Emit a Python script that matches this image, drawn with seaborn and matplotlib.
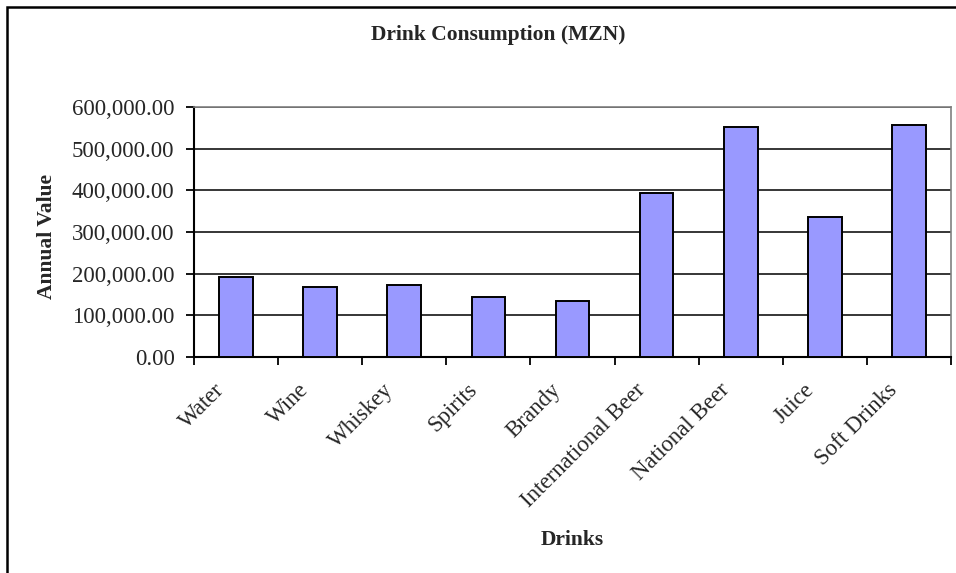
import matplotlib
matplotlib.use("Agg")
import matplotlib.pyplot as plt
import matplotlib.patches as mpatches
import matplotlib.transforms as mtransforms
from matplotlib.ticker import FuncFormatter, FixedLocator
import seaborn as sns
import pandas as pd

# Annual value of drink consumption (MZN)
drinks = ["Water", "Wine", "Whiskey", "Spirits", "Brandy",
          "International Beer", "National Beer", "Juice", "Soft Drinks"]
annual_value = [192000, 167000, 173000, 144000, 134000,
                393000, 552000, 336000, 557000]
y_ticks = [0, 100000, 200000, 300000, 400000, 500000, 600000]

df = pd.DataFrame({"Drinks": drinks, "Annual Value": annual_value})

sns.set_theme(style="white")
plt.rcParams["font.family"] = ["Liberation Serif", "DejaVu Serif"]

fig = plt.figure(figsize=(9.56, 5.73), dpi=100)
fig.patch.set_facecolor("white")
ax = fig.add_axes([194 / 956, 1 - 357 / 573, (951 - 194) / 956, (357 - 107) / 573])

sns.barplot(data=df, x="Drinks", y="Annual Value", color="#9999FF",
            saturation=1, width=0.4, edgecolor="black", linewidth=1.4,
            zorder=3, ax=ax)

ax.set_xlim(-0.5, len(drinks) - 0.5)
ax.set_ylim(0, 600000)
ax.set_yticks(y_ticks)
ax.yaxis.set_major_formatter(FuncFormatter(lambda v, p: f"{v:,.2f}"))
ax.grid(axis="y", color="black", linewidth=1.1, zorder=0)
ax.grid(axis="x", visible=False)

# category boundaries carry the tick marks, labels sit under the bars
ax.xaxis.set_minor_locator(FixedLocator([i - 0.5 for i in range(len(drinks) + 1)]))
ax.tick_params(axis="x", which="major", length=0, pad=16)
ax.tick_params(axis="x", which="minor", length=6, width=1.3, color="black",
               direction="out", bottom=True)
ax.tick_params(axis="y", which="major", length=6, width=1.3, color="black",
               direction="out", left=True, pad=8, labelsize=16.5)
shift = mtransforms.ScaledTranslation(-7 / 100, 0, fig.dpi_scale_trans)
for lbl in ax.get_xticklabels():
    lbl.set_rotation(45)
    lbl.set_ha("right")
    lbl.set_va("top")
    lbl.set_fontsize(16.5)
    lbl.set_transform(lbl.get_transform() + shift)

for side in ["left", "bottom"]:
    ax.spines[side].set_color("black")
    ax.spines[side].set_linewidth(1.5)
for side in ["top", "right"]:
    ax.spines[side].set_color("#808080")
    ax.spines[side].set_linewidth(1.2)

ax.set_xlabel("")
ax.set_ylabel("")

fig.text(498 / 956, 1 - 35 / 573, "Drink Consumption (MZN)", ha="center",
         va="center", fontsize=15.5, fontweight="bold")
fig.text(47 / 956, 1 - 236 / 573, "Annual Value", ha="center", va="center",
         rotation=90, fontsize=15.5, fontweight="bold")
fig.text(572 / 956, 1 - 540 / 573, "Drinks", ha="center", va="center",
         fontsize=15.5, fontweight="bold")

# chart area frame
frame = mpatches.Rectangle((7 / 956, -0.05), 1.2, 1 - 7 / 573 + 0.05,
                           transform=fig.transFigure, fill=False,
                           edgecolor="black", linewidth=1.8, clip_on=False)
fig.patches.append(frame)

fig.savefig("out.png", dpi=100, facecolor="white")
